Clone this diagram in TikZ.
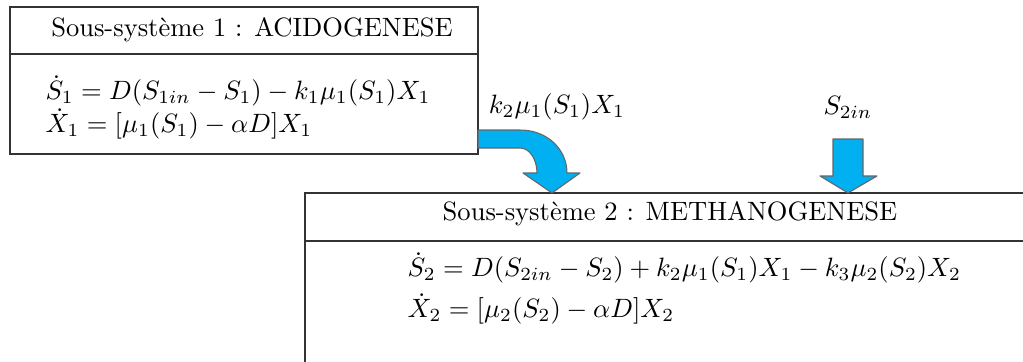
\documentclass[tikz,border=0pt]{standalone}
\usepackage{amsmath}
\usetikzlibrary{positioning}
\definecolor{flux}{RGB}{0,176,240}
% cadre d'un sous-systeme : nom, coin haut-gauche, coin bas-droit, hauteur du trait
\newcommand{\sysbox}[4]{%
    \draw[cadre] #2 rectangle #3;%
    \coordinate (#1-nw) at #2;%
    \coordinate (#1-se) at #3;%
    \draw[cadre] (#1-nw |- 0,#4) -- (#1-se |- 0,#4);%
}

\begin{document}
\begin{tikzpicture}[
        x=0.377pt,
        y=-0.377pt,
        cadre/.style={line width=0.75pt, draw=black!80},
        fleche/.style={fill=flux, draw=black!60, line width=0.4pt, line join=round},
        titre/.style={inner sep=0pt},
        eq/.style={anchor=west, inner sep=0pt},
        flux/.style={inner sep=0pt}
    ]
        \clip (0,0) rectangle (1023,361);

        % === SOUS-SYSTEME 1 ===
        \sysbox{A}{(10,7)}{(478,154)}{54}
        \node[titre] (tA) at (252,30) {Sous-système 1 : ACIDOGENESE};
        \node[eq] (sA) at (45,91) {$\dot S_1 = D(S_{1in}-S_1) - k_1\mu_1(S_1)X_1$};
        \node[eq] (xA) at (45,124) {$\dot X_1 = [\mu_1(S_1) - \alpha D]X_1$};

        % === SOUS-SYSTEME 2 (coupe a droite et en bas) ===
        \sysbox{M}{(305,193)}{(1040,380)}{241}
        \node[titre] (tM) at (670,214) {Sous-système 2 : METHANOGENESE};
        \node[eq] (sM) at (407,268) {$\dot S_2 = D(S_{2in}-S_2) + k_2\mu_1(S_1)X_1 - k_3\mu_2(S_2)X_2$};
        \node[eq] (xM) at (407,309) {$\dot X_2 = [\mu_2(S_2) - \alpha D]X_2$};

        % === FLECHES ===
        \node[flux] (kA) at (557,107) {$k_2\mu_1(S_1)X_1$};
        \node[flux] (sin) at (848,107) {$S_{2in}$};
        % fleche coudee : de A vers M
        \coordinate (pA) at (478,130);
        \coordinate (pM) at (552,193);
        \draw[fleche] (pA) -- (520,130) .. controls (548,130) and (567,150) .. (567,173)
            -- (580,173) -- (pM) -- (523,173) -- (537,173)
            .. controls (537,160) and (530,148) .. (520,148) -- (478,148) -- cycle;
        % fleche droite : entree S2in
        \coordinate (pS) at (848,193);
        \draw[fleche] (833,139) -- (863,139) -- (863,176) -- (877,176) -- (pS)
            -- (820,176) -- (833,176) -- cycle;
\end{tikzpicture}
\end{document}
